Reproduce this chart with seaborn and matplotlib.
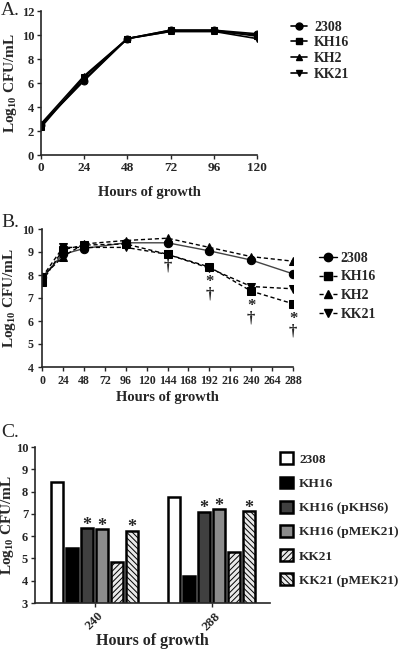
import numpy as np
import pandas as pd
import matplotlib
matplotlib.use("Agg")
import matplotlib.pyplot as plt
import seaborn as sns
from matplotlib.patches import Patch
from matplotlib.lines import Line2D

# ---------------- data ----------------
strains_ab = ["2308", "KH16", "KH2", "KK21"]

hours_a = [0, 24, 48, 72, 96, 120]
a_2308 = [2.5, 6.2, 9.7, 10.4, 10.4, 10.1]
a_kh16 = [2.3, 6.5, 9.7, 10.4, 10.4, 9.9]
a_kh2 = [2.6, 6.6, 9.7, 10.3, 10.3, 10.0]
a_kk21 = [2.5, 6.3, 9.7, 10.3, 10.3, 9.7]

hours_b = [0, 24, 48, 96, 144, 192, 240, 288]
b_2308 = [7.9, 8.9, 9.15, 9.4, 9.4, 9.05, 8.65, 8.05]
b_kh16 = [7.7, 9.1, 9.3, 9.35, 8.9, 8.35, 7.3, 6.75]
b_kh2 = [7.9, 8.8, 9.35, 9.5, 9.6, 9.2, 8.8, 8.6]
b_kk21 = [7.9, 9.2, 9.2, 9.2, 8.9, 8.3, 7.5, 7.4]

# significance marks in panel B (x position, top of mark, has star)
mark_x = [144, 192, 240, 288]
mark_top = [8.7, 8.05, 7.0, 6.45]
mark_star = [False, True, True, True]

times_c = ["240", "288"]
strains_c = ["2308", "KH16", "KH16 (pKHS6)", "KH16 (pMEK21)", "KK21", "KK21 (pMEK21)"]
c_240 = [8.45, 5.45, 6.35, 6.33, 4.85, 6.25]
c_288 = [7.75, 4.2, 7.1, 7.2, 5.28, 7.12]
c_star = [False, False, True, True, False, True]

# ---------------- style ----------------
sns.set_style("ticks")
plt.rcParams["font.family"] = ["Liberation Serif", "DejaVu Serif"]
plt.rcParams["font.weight"] = "bold"
plt.rcParams["axes.labelweight"] = "bold"
plt.rcParams["mathtext.fontset"] = "custom"
plt.rcParams["mathtext.rm"] = "Liberation Serif:bold"
plt.rcParams["mathtext.it"] = "Liberation Serif:bold"
plt.rcParams["mathtext.bf"] = "Liberation Serif:bold"
plt.rcParams["hatch.linewidth"] = 0.7

W, H = 400, 652
fig = plt.figure(figsize=(4.0, 6.52), dpi=100)


def px_axes(l, t, r, b):
    return fig.add_axes([l / W, 1 - b / H, (r - l) / W, (b - t) / H])


ylab = r"Log$_{10}$ CFU/mL"
markers = {"2308": "o", "KH16": "s", "KH2": "^", "KK21": "v"}

# ---------------- Panel A ----------------
axA = px_axes(41, 11, 257, 155)
dfA = pd.DataFrame({
    "hours": hours_a * 4,
    "value": a_2308 + a_kh16 + a_kh2 + a_kk21,
    "strain": np.repeat(strains_ab, len(hours_a)),
})
sns.lineplot(data=dfA, x="hours", y="value", hue="strain", style="strain",
             markers=markers, dashes=False, palette=["black"] * 4,
             markersize=5, linewidth=1.2, markeredgecolor="black",
             ax=axA, legend=False)
axA.set_xlim(0, 120)
axA.set_ylim(0, 12)
axA.set_xticks(hours_a)
axA.set_yticks(range(0, 13, 2))
axA.set_xlabel("Hours of growth", fontsize=10.5, labelpad=9)
axA.set_ylabel(ylab, fontsize=11, labelpad=2)
axA.tick_params(labelsize=9, length=3, width=1, pad=2)
axA.tick_params(axis="x", labelsize=9.5)
for s in ["left", "bottom"]:
    axA.spines[s].set_linewidth(1.2)
sns.despine(ax=axA)
handlesA = [Line2D([], [], color="black", marker=markers[s], markersize=5, lw=1.2)
            for s in strains_ab]
axA.legend(handlesA, strains_ab, loc="upper left", bbox_to_anchor=(285 / W, 1 - 15 / H),
           bbox_transform=fig.transFigure, frameon=False, fontsize=10,
           handlelength=1.2, handletextpad=0.5, labelspacing=0.2, borderaxespad=0)
fig.text(1 / W, 1 - 2 / H, "A.", fontsize=14, fontweight="normal", va="top")

# ---------------- Panel B ----------------
axB = px_axes(42, 229, 293, 367)
dfB = pd.DataFrame({
    "hours": hours_b * 4,
    "value": b_2308 + b_kh16 + b_kh2 + b_kk21,
    "strain": np.repeat(strains_ab, len(hours_b)),
})
dashesB = {"2308": "", "KH16": (3, 2), "KH2": (3, 2), "KK21": (3, 2)}
sns.lineplot(data=dfB, x="hours", y="value", hue="strain", style="strain",
             markers=markers, dashes=dashesB,
             palette=["#444444", "black", "black", "black"],
             markersize=6, linewidth=1.0, markeredgecolor="black",
             ax=axB, legend=False)
for ln in axB.lines:
    ln.set_markerfacecolor("black")
axB.set_xlim(0, 288)
axB.set_ylim(4, 10)
axB.set_xticks(range(0, 289, 24))
axB.set_yticks(range(4, 11))
axB.set_xlabel("Hours of growth", fontsize=10.5, labelpad=3)
axB.set_ylabel(ylab, fontsize=11, labelpad=3)
axB.tick_params(labelsize=8.6, length=3, width=1, pad=3)
for s in ["left", "bottom"]:
    axB.spines[s].set_linewidth(1.2)
sns.despine(ax=axB)
for x, top, st in zip(mark_x, mark_top, mark_star):
    label = "*\n\u2020" if st else "\u2020"
    axB.text(x, top, label, ha="center", va="top", fontsize=12,
             linespacing=0.75, multialignment="center")
handlesB = [Line2D([], [], color="black", marker=markers[s], markersize=6, lw=1.0,
                   linestyle="-" if s == "2308" else (0, (3, 2)))
            for s in strains_ab]
axB.legend(handlesB, strains_ab, loc="upper left", bbox_to_anchor=(313 / W, 1 - 246 / H),
           bbox_transform=fig.transFigure, frameon=False, fontsize=10,
           handlelength=1.3, handletextpad=0.3, labelspacing=0.42, borderaxespad=0)
fig.text(1 / W, 1 - 214 / H, "B.", fontsize=14, fontweight="normal", va="top")

# ---------------- Panel C ----------------
axC = px_axes(35, 447, 270, 603)
dfC = pd.DataFrame({
    "time": times_c * len(strains_c),
    "value": [v for pair in zip(c_240, c_288) for v in pair],
    "strain": np.repeat(strains_c, len(times_c)),
})
facecols = ["white", "black", "#404040", "#8c8c8c", "#e8e8e8", "#e8e8e8"]
hatches = [None, None, None, None, "//////", "\\\\\\\\\\\\"]
sns.barplot(data=dfC, x="time", y="value", hue="strain", hue_order=strains_c,
            order=times_c, palette=facecols, edgecolor="black", linewidth=1.8,
            width=0.77, gap=0.22, saturation=1, ax=axC, legend=False, errorbar=None)
for cont, hatch in zip(axC.containers, hatches):
    for bar in cont:
        if hatch:
            bar.set_hatch(hatch)
for cont, star in zip(axC.containers, c_star):
    if star:
        for bar in cont:
            axC.text(bar.get_x() + bar.get_width() / 2, bar.get_height() + 0.12, "*",
                     ha="center", va="center", fontsize=13)
axC.set_xlim(-0.51, 1.5)
axC.set_ylim(3, 10)
axC.set_yticks(range(3, 11))
axC.set_xlabel("Hours of growth", fontsize=11.5, labelpad=0)
axC.set_ylabel(ylab, fontsize=11, labelpad=0)
axC.tick_params(labelsize=9, length=3, width=1, pad=2)
axC.tick_params(axis="x", rotation=45, labelsize=9.5)
for s in ["left", "bottom"]:
    axC.spines[s].set_linewidth(1.2)
sns.despine(ax=axC)
handlesC = [Patch(facecolor=fc, edgecolor="black", linewidth=1.8, hatch=h)
            for fc, h in zip(facecols, hatches)]
axC.legend(handlesC, strains_c, loc="upper left", bbox_to_anchor=(275 / W, 1 - 447 / H),
           bbox_transform=fig.transFigure, frameon=False, fontsize=9.6,
           handlelength=0.95, handleheight=1.0, handletextpad=0.45, labelspacing=0.8,
           borderaxespad=0)
fig.text(1 / W, 1 - 424 / H, "C.", fontsize=14, fontweight="normal", va="top")

fig.savefig("out.png", dpi=100)
